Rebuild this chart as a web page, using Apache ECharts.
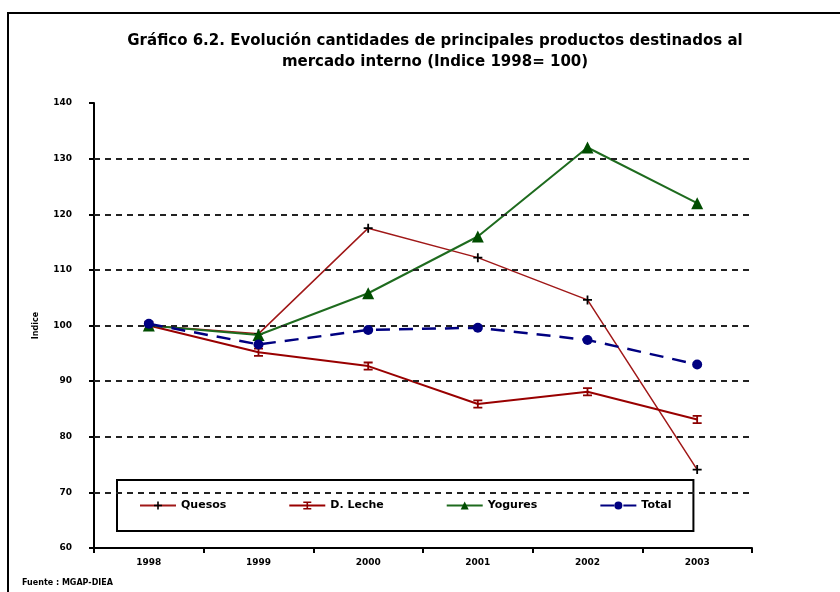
<!DOCTYPE html>
<html>
<head>
<meta charset="utf-8">
<script src="https://cdn.jsdelivr.net/npm/echarts@6/dist/echarts.min.js"></script>
<style>
  html, body { margin: 0; padding: 0; background: #fff; }
  #chart { width: 840px; height: 592px; }
</style>
</head>
<body>
<div id="chart"></div>
<script>
// Data
const years = ['1998', '1999', '2000', '2001', '2002', '2003'];
const quesos = [100, 98.5, 117.5, 112.2, 104.6, 74.1];
const dLeche = [100, 95.2, 92.7, 85.9, 88.1, 83.1];
const yogures = [100, 98.3, 105.8, 116.0, 132.0, 122.0];
const total = [100.3, 96.6, 99.2, 99.6, 97.4, 93.0];
const gridValues = [70, 80, 90, 100, 110, 120, 130];

const FONT = 'DejaVu Sans';

const plusIcon = 'path://M4,0h2v10h-2z M0,4h10v2h-10z';
const beamIcon = 'path://M0,0h10v2h-10z M4,2h2v6h-2z M0,8h10v2h-10z';

const chart = echarts.init(document.getElementById('chart'));

chart.setOption({
    backgroundColor: '#fff',
    animation: false,
    title: {
        text: 'Gráfico 6.2. Evolución cantidades de principales productos destinados al\nmercado interno (Indice 1998= 100)',
        left: 430,
        textAlign: 'center',
        top: 26,
        textStyle: { fontFamily: FONT, fontSize: 15, fontWeight: 'bold', color: '#000', lineHeight: 21 }
    },
    graphic: [
        {
            type: 'rect',
            shape: { x: 8, y: 13, width: 850, height: 600 },
            style: { fill: 'none', stroke: '#000', lineWidth: 2 }
        },
        {
            type: 'text',
            left: 22,
            top: 579,
            style: { text: 'Fuente : MGAP-DIEA', font: 'bold 8px "DejaVu Sans"', fill: '#000' }
        }
    ],
    legend: {
        left: 117,
        top: 480,
        padding: [20, 22],
        itemGap: 62,
        itemWidth: 36,
        itemHeight: 10,
        borderColor: '#000',
        borderWidth: 2,
        backgroundColor: '#fff',
        textStyle: { fontFamily: FONT, fontSize: 11, fontWeight: 'bold', color: '#000' },
        data: ['Quesos', 'D. Leche', 'Yogures', 'Total']
    },
    grid: { left: 94, right: 88, top: 103, bottom: 44 },
    xAxis: {
        type: 'category',
        data: years,
        boundaryGap: true,
        axisLine: { lineStyle: { color: '#000', width: 2 } },
        axisTick: { show: true, length: 5, lineStyle: { color: '#000', width: 2 } },
        axisLabel: { fontFamily: FONT, fontSize: 9, fontWeight: 'bold', color: '#000', margin: 10 },
        splitLine: { show: false }
    },
    yAxis: {
        type: 'value',
        min: 60,
        max: 140,
        interval: 10,
        name: 'Indice',
        nameLocation: 'middle',
        nameGap: 54,
        nameRotate: 90,
        nameTextStyle: { fontFamily: FONT, fontSize: 8, fontWeight: 'bold', color: '#000' },
        axisLine: { show: true, lineStyle: { color: '#000', width: 2 } },
        axisTick: { show: true, length: 5, lineStyle: { color: '#000', width: 2 } },
        axisLabel: { fontFamily: FONT, fontSize: 9, fontWeight: 'bold', color: '#000', margin: 22 },
        splitLine: { show: false }
    },
    series: [
        {
            name: 'Quesos',
            type: 'line',
            data: quesos,
            symbol: plusIcon,
            symbolSize: 9,
            itemStyle: { color: '#000' },
            lineStyle: { color: '#a01818', width: 1.5 },
            z: 3,
            markLine: {
                silent: true,
                symbol: 'none',
                label: { show: false },
                lineStyle: { color: '#222', type: [6, 5], width: 2 },
                data: gridValues.map(v => ({ yAxis: v }))
            }
        },
        {
            name: 'D. Leche',
            type: 'line',
            data: dLeche,
            symbol: beamIcon,
            symbolSize: 9,
            itemStyle: { color: '#8b0000' },
            lineStyle: { color: '#990000', width: 2 },
            z: 3
        },
        {
            name: 'Yogures',
            type: 'line',
            data: yogures,
            symbol: 'triangle',
            symbolSize: 12,
            itemStyle: { color: '#004d00' },
            lineStyle: { color: '#1e6b1e', width: 2 },
            z: 4
        },
        {
            name: 'Total',
            type: 'line',
            data: total,
            symbol: 'circle',
            symbolSize: 10,
            itemStyle: { color: '#000080' },
            lineStyle: { color: '#000080', width: 2.5, type: [14, 9] },
            z: 5
        }
    ]
});
</script>
</body>
</html>
